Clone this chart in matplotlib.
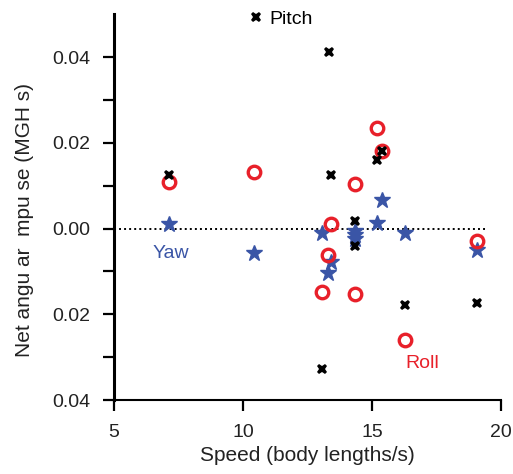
import numpy as np
import matplotlib
matplotlib.use('Agg')
import matplotlib.pyplot as plt
from matplotlib.ticker import FixedLocator, FixedFormatter

plt.rcParams['font.family'] = ['Liberation Sans', 'DejaVu Sans']

# datos
yaw_x = [7.13, 10.43, 13.06, 13.40, 13.31, 14.35, 14.35, 14.35, 15.18, 15.39, 16.27, 19.08]
yaw_y = [0.0011, -0.0058, -0.0011, -0.0077, -0.0104, -0.0006, -0.0015, -0.0024, 0.0012, 0.0067, -0.0010, -0.0049]

roll_x = [7.13, 10.43, 14.35, 15.18, 15.39, 13.40, 13.31, 13.06, 14.35, 16.27, 19.08]
roll_y = [0.0108, 0.0133, 0.0105, 0.0235, 0.0182, 0.0010, -0.0061, -0.0148, -0.0152, -0.0261, -0.0030]

pitch_x = [13.32, 7.13, 13.40, 15.18, 15.39, 14.35, 14.35, 16.27, 19.08, 13.06]
pitch_y = [0.0411, 0.0126, 0.0126, 0.0159, 0.0182, 0.0017, -0.0041, -0.0179, -0.0173, -0.0327]

y_ticks = [-0.04, -0.02, 0.0, 0.02, 0.04]
y_labels = ['0.04', '0.02', '0.00', '0.02', '0.04']
x_ticks = [5, 10, 15, 20]

rojo = '#e8202a'
azul = '#3a55a6'


def main():
    fig = plt.figure(figsize=(5.13, 4.74), dpi=100)
    ax = fig.add_axes([0.222, 0.156, 0.755, 0.814])

    ax.hlines(0, 5, 19.4, colors='black', linestyles=(0, (1, 1.6)), linewidth=1.4, zorder=1)

    ax.plot(yaw_x, yaw_y, linestyle='none', marker='*', markersize=12,
            color=azul, zorder=2)
    ax.plot(roll_x, roll_y, linestyle='none', marker='o', markersize=9,
            markerfacecolor='none', markeredgecolor=rojo, markeredgewidth=2.4, zorder=3)
    pitch, = ax.plot(pitch_x, pitch_y, linestyle='none', marker='X', markersize=7.5,
                     color='black', markeredgewidth=0, zorder=4)

    ax.set_xlim(5, 20)
    ax.set_ylim(-0.04, 0.05)

    ax.xaxis.set_major_locator(FixedLocator(x_ticks))
    ax.yaxis.set_major_locator(FixedLocator(y_ticks))
    ax.yaxis.set_major_formatter(FixedFormatter(y_labels))
    ax.yaxis.set_minor_locator(FixedLocator([-0.03, -0.01, 0.01, 0.03]))

    for lado in ['top', 'right']:
        ax.spines[lado].set_visible(False)
    ax.spines['left'].set_linewidth(2.2)
    ax.spines['bottom'].set_linewidth(1.5)

    ax.tick_params(axis='both', which='both', direction='out', length=8, width=1.6,
                   labelsize=14, colors='black', labelcolor='#222222')
    ax.tick_params(axis='x', pad=9)
    ax.tick_params(axis='y', pad=9)

    ax.set_xlabel('Speed (body lengths/s)', fontsize=15, labelpad=4, color='#222222')
    ax.set_ylabel('Net angu ar  mpu se (MGH s)', fontsize=15, color='#222222')
    ax.yaxis.set_label_coords(-0.207, 0.466)

    ax.text(7.2, -0.0058, 'Yaw', color=azul, fontsize=14, ha='center', va='center')
    ax.text(16.94, -0.0315, 'Roll', color=rojo, fontsize=14, ha='center', va='center')

    ax.legend([pitch], ['Pitch'], loc='center left', bbox_to_anchor=(0.348, 0.987),
              frameon=False, handlelength=0.8, handletextpad=0.25, borderpad=0,
              borderaxespad=0, fontsize=14)

    fig.savefig('out.png', dpi=100)


if __name__ == '__main__':
    main()
